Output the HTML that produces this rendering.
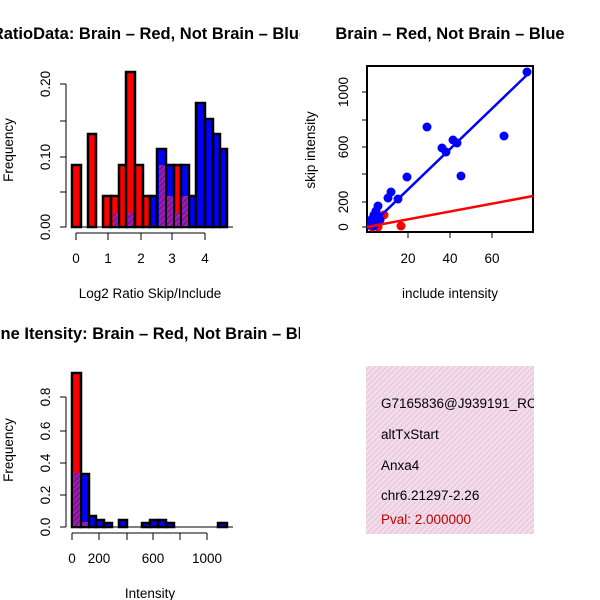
<!DOCTYPE html>
<html><head><meta charset="utf-8"><style>body{margin:0;background:#fff}svg{display:block}text{font-family:"Liberation Sans",sans-serif}</style></head>
<body>
<svg width="600" height="600" viewBox="0 0 600 600" xmlns="http://www.w3.org/2000/svg">
<defs>
<clipPath id="L"><rect x="0" y="0" width="300" height="600"/></clipPath>
<clipPath id="R"><rect x="366" y="366" width="168" height="168"/></clipPath>
<pattern id="hp" width="4" height="4" patternUnits="userSpaceOnUse" patternTransform="rotate(45)"><rect width="4" height="4" fill="#9a1fb0"/><rect width="1.5" height="4" fill="#7a1090"/></pattern>
<pattern id="pk" width="4" height="4" patternUnits="userSpaceOnUse" patternTransform="rotate(45)"><rect width="4" height="4" fill="#f8d8f2"/><rect width="1.2" height="4" fill="#dcd0c8"/></pattern>
</defs>
<g clip-path="url(#L)">
<text x="150" y="39" font-size="16.5" font-weight="bold" text-anchor="middle">RatioData: Brain – Red, Not Brain – Blue</text>
<text x="150" y="339" font-size="16.5" font-weight="bold" text-anchor="middle">Gene Itensity: Brain – Red, Not Brain – Blue</text>
</g>
<text x="450" y="39" font-size="16.5" font-weight="bold" text-anchor="middle">Brain – Red, Not Brain – Blue</text>
<g font-size="13.5">
<!-- Plot 1 -->
<g stroke="#000" stroke-width="2.5">
<rect x="72" y="165" width="9" height="62" fill="red"/>
<rect x="88" y="134" width="8" height="93" fill="red"/>
<rect x="103" y="196" width="8" height="31" fill="red"/>
<rect x="111" y="196" width="8" height="31" fill="red"/>
<rect x="119" y="165" width="8" height="62" fill="red"/>
<rect x="126" y="72" width="9" height="155" fill="red"/>
<rect x="135" y="165" width="8" height="62" fill="red"/>
<rect x="143" y="196" width="7" height="31" fill="red"/>
<rect x="150" y="196" width="7" height="31" fill="blue"/>
<rect x="157" y="149" width="9" height="78" fill="blue"/>
<rect x="166" y="165" width="8" height="62" fill="blue"/>
<rect x="174" y="165" width="7" height="62" fill="red"/>
<rect x="181" y="165" width="8" height="62" fill="blue"/>
<rect x="189" y="196" width="7" height="31" fill="blue"/>
<rect x="196" y="103" width="9" height="124" fill="blue"/>
<rect x="205" y="119" width="8" height="108" fill="blue"/>
<rect x="213" y="134" width="7" height="93" fill="blue"/>
<rect x="220" y="149" width="7" height="78" fill="blue"/>
</g>
<g stroke="none">
<rect x="113" y="213" width="5" height="13" fill="url(#hp)"/>
<rect x="128" y="213" width="5" height="13" fill="url(#hp)"/>
<rect x="159" y="165" width="6" height="61" fill="url(#hp)"/>
<rect x="167" y="196" width="6" height="30" fill="url(#hp)"/>
<rect x="175" y="213" width="5" height="13" fill="url(#hp)"/>
<rect x="182" y="196" width="6" height="30" fill="url(#hp)"/>
</g>
<g stroke="#000" stroke-width="1" fill="none">
<path d="M66 227V84M60 227H66M60 192H66M60 157H66M60 121H66M60 84H66"/>
<path d="M71 227H233"/>
<path d="M76 233V240M108 233V240M141 233V240M172 233V240M205 233V240M76 233H205"/>
</g>
<g text-anchor="middle">
<text x="76" y="263">0</text><text x="108" y="263">1</text><text x="141" y="263">2</text><text x="172" y="263">3</text><text x="205" y="263">4</text>
<text x="150" y="298">Log2 Ratio Skip/Include</text>
<text transform="translate(50,227) rotate(-90)">0.00</text>
<text transform="translate(50,157) rotate(-90)">0.10</text>
<text transform="translate(50,84) rotate(-90)">0.20</text>
<text transform="translate(13,150) rotate(-90)">Frequency</text>
</g>
<!-- Plot 2 -->
<rect x="367" y="66" width="166" height="166" fill="none" stroke="#000" stroke-width="2"/>
<path d="M362 227H367M362 202H367M362 174H367M362 147H367M362 120H367M362 92H367M408 232V238M450 232V238M492 232V238" stroke="#000"/>
<g text-anchor="middle">
<text transform="translate(348,227) rotate(-90)">0</text>
<text transform="translate(348,202) rotate(-90)">200</text>
<text transform="translate(348,147) rotate(-90)">600</text>
<text transform="translate(348,92) rotate(-90)">1000</text>
<text x="408" y="263">20</text><text x="450" y="263">40</text><text x="492" y="263">60</text>
<text x="450" y="298">include intensity</text>
<text transform="translate(315,150) rotate(-90)">skip intensity</text>
</g>
<g fill="red">
<circle cx="384" cy="215" r="4.5"/><circle cx="401" cy="226" r="4.5"/><circle cx="372" cy="227" r="4.5"/><circle cx="378" cy="227" r="4.5"/>
</g>
<g fill="blue">
<circle cx="527" cy="72" r="4.5"/><circle cx="427" cy="127" r="4.5"/><circle cx="504" cy="136" r="4.5"/><circle cx="453" cy="140" r="4.5"/><circle cx="457" cy="143" r="4.5"/><circle cx="442" cy="148" r="4.5"/><circle cx="446" cy="152" r="4.5"/><circle cx="461" cy="176" r="4.5"/><circle cx="407" cy="177" r="4.5"/><circle cx="391" cy="192" r="4.5"/><circle cx="388" cy="198" r="4.5"/><circle cx="398" cy="199" r="4.5"/><circle cx="378" cy="206" r="4.5"/><circle cx="376" cy="211" r="4.5"/><circle cx="374" cy="215" r="4.5"/><circle cx="378" cy="216" r="4.5"/><circle cx="372" cy="219" r="4.5"/><circle cx="376" cy="222" r="4.5"/><circle cx="371" cy="224" r="4.5"/><circle cx="380" cy="220" r="4.5"/><circle cx="374" cy="226" r="4.5"/>
</g>
<line x1="367" y1="229" x2="530" y2="72" stroke="blue" stroke-width="2.5"/>
<line x1="367" y1="227" x2="533" y2="196" stroke="red" stroke-width="2.5"/>
<!-- Plot 3 -->
<g stroke="#000" stroke-width="2.5">
<rect x="72" y="373" width="9" height="154" fill="red"/>
<rect x="81" y="474" width="8" height="53" fill="blue"/>
<rect x="89" y="516" width="7" height="11" fill="blue"/>
<rect x="96" y="520" width="8" height="7" fill="blue"/>
<rect x="104" y="523" width="8" height="4" fill="blue"/>
<rect x="119" y="520" width="8" height="7" fill="blue"/>
<rect x="142" y="523" width="8" height="4" fill="blue"/>
<rect x="150" y="520" width="8" height="7" fill="blue"/>
<rect x="158" y="520" width="8" height="7" fill="blue"/>
<rect x="166" y="523" width="8" height="4" fill="blue"/>
<rect x="218" y="523" width="9" height="4" fill="blue"/>
</g>
<rect x="73" y="473" width="7" height="53" fill="url(#hp)"/>
<rect x="82" y="522" width="6" height="4" fill="url(#hp)"/>
<g stroke="#000" stroke-width="1" fill="none">
<path d="M66 527V397M60 527H66M60 495H66M60 463H66M60 431H66M60 397H66"/>
<path d="M71 527H233"/>
<path d="M72 533V540M99 533V540M127 533V540M153 533V540M180 533V540M207 533V540M72 533H207"/>
</g>
<g text-anchor="middle">
<text x="72" y="563">0</text><text x="99" y="563">200</text><text x="153" y="563">600</text><text x="207" y="563">1000</text>
<text x="150" y="598">Intensity</text>
<text transform="translate(50,527) rotate(-90)">0.0</text>
<text transform="translate(50,495) rotate(-90)">0.2</text>
<text transform="translate(50,463) rotate(-90)">0.4</text>
<text transform="translate(50,431) rotate(-90)">0.6</text>
<text transform="translate(50,397) rotate(-90)">0.8</text>
<text transform="translate(13,450) rotate(-90)">Frequency</text>
</g>
<!-- Panel 4 -->
<rect x="366" y="366" width="168" height="168" fill="url(#pk)"/>
<g clip-path="url(#R)">
<text x="381" y="408">G7165836@J939191_RC</text>
<text x="381" y="439">altTxStart</text>
<text x="381" y="470">Anxa4</text>
<text x="381" y="500">chr6.21297-2.26</text>
<text x="381" y="524" fill="#c00000">Pval: 2.000000</text>
</g>
</g>
</svg>
</body></html>
